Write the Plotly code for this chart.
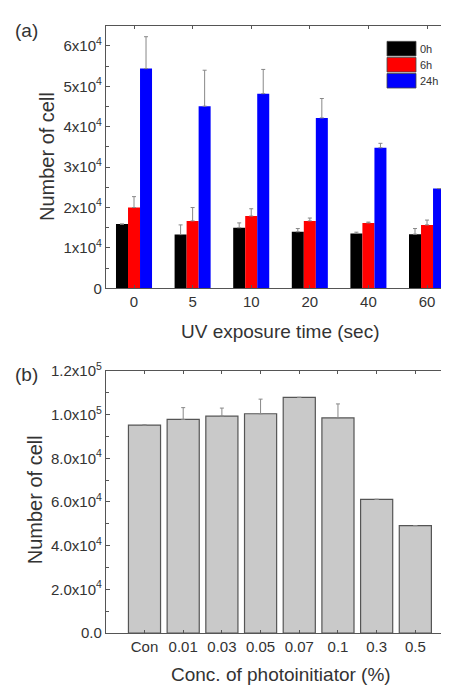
import plotly.graph_objects as go

# ---------------- data ----------------
uv_times = ["0", "5", "10", "20", "40", "60"]
series_names = ["0h", "6h", "24h"]
cells_0h = [1.59e4, 1.33e4, 1.50e4, 1.40e4, 1.36e4, 1.34e4]
cells_6h = [2.00e4, 1.67e4, 1.79e4, 1.67e4, 1.62e4, 1.57e4]
cells_24h = [5.44e4, 4.51e4, 4.82e4, 4.22e4, 3.48e4, 2.47e4]
err_0h = [0.0, 0.24e4, 0.12e4, 0.08e4, 0.03e4, 0.14e4]
err_6h = [0.27e4, 0.33e4, 0.18e4, 0.07e4, 0.02e4, 0.12e4]
err_24h = [0.79e4, 0.89e4, 0.60e4, 0.48e4, 0.11e4, 0.0]
series_colors = ["#000000", "#ff0000", "#0000ff"]

conc_labels = ["Con", "0.01", "0.03", "0.05", "0.07", "0.1", "0.3", "0.5"]
conc_cells = [9.52e4, 9.78e4, 9.93e4, 10.04e4, 10.79e4, 9.85e4, 6.12e4, 4.92e4]
conc_err = [0.10e3, 5.4e3, 3.7e3, 6.7e3, 0.0, 6.4e3, 0.0, 0.0]

ya_tickvals = [0, 1e4, 2e4, 3e4, 4e4, 5e4, 6e4]
ya_ticktext = ["0", "1x10<sup>4</sup>", "2x10<sup>4</sup>", "3x10<sup>4</sup>",
               "4x10<sup>4</sup>", "5x10<sup>4</sup>", "6x10<sup>4</sup>"]
yb_tickvals = [0, 2e4, 4e4, 6e4, 8e4, 10e4, 12e4]
yb_ticktext = ["0.0", "2.0x10<sup>4</sup>", "4.0x10<sup>4</sup>", "6.0x10<sup>4</sup>",
               "8.0x10<sup>4</sup>", "1.0x10<sup>5</sup>", "1.2x10<sup>5</sup>"]

# ---------------- layout constants ----------------
OFF = 8  # default page margin of the html body
W, H = 449 - OFF, 693 - OFF
ML = 106 - OFF
PW = W - ML
FONT = "Liberation Sans, Arial, sans-serif"
TXT = "#333333"
AX = "#555555"


def px(x):  # window pixel -> paper
    return (x - OFF - ML) / PW


def py(y):
    return 1 - (y - OFF) / H


fig = go.Figure()

tops = [cells_0h, cells_6h, cells_24h]
errs = [err_0h, err_6h, err_24h]
for name, vals, e, c in zip(series_names, tops, errs, series_colors):
    fig.add_trace(go.Bar(
        x=uv_times, y=vals, name=name, marker=dict(color=c, line=dict(width=0)),
        error_y=dict(type="data", array=e, arrayminus=[0] * len(e), symmetric=False,
                     color="#888888", thickness=1, width=2),
        xaxis="x", yaxis="y", showlegend=False))

fig.add_trace(go.Bar(
    x=conc_labels, y=conc_cells, width=0.83,
    marker=dict(color="#c9c9c9", line=dict(color="#555555", width=1.2)),
    error_y=dict(type="data", array=conc_err, arrayminus=[0] * len(conc_err), symmetric=False,
                 color="#888888", thickness=1, width=2),
    xaxis="x2", yaxis="y2", showlegend=False))

line_common = dict(showline=True, linecolor=AX, linewidth=1.3, showgrid=False, zeroline=False,
                   tickfont=dict(family=FONT, size=15, color=TXT), tickcolor=AX,
                   ticks="inside")

fig.update_layout(
    width=W, height=H, margin=dict(l=ML, r=0, t=0, b=0),
    paper_bgcolor="white", plot_bgcolor="white",
    barmode="group", bargap=0.385, bargroupgap=0,
    xaxis=dict(domain=[0, 1], anchor="y", range=[-0.478, 5.375], mirror="ticks", ticklen=3,
               **line_common),
    yaxis=dict(domain=[py(285), py(15)], anchor="x", range=[0, 6.5e4],
               tickvals=ya_tickvals, ticktext=ya_ticktext, mirror=False, ticklen=4,
               minor=dict(ticks="inside", ticklen=2.5, tickcolor=AX, dtick=5e3),
               **line_common),
    xaxis2=dict(domain=[0, 1], anchor="y2", range=[-0.995, 7.87], mirror="ticks", ticklen=3,
                **line_common),
    yaxis2=dict(domain=[py(639.5), py(370)], anchor="x2", range=[0, 1.2e5],
                tickvals=yb_tickvals, ticktext=yb_ticktext, mirror=False, ticklen=4,
                minor=dict(ticks="inside", ticklen=2.5, tickcolor=AX, dtick=1e4),
                **line_common),
)

annotations = []
for t, x, y, s in [("(a)", 26, 20, 19), ("(b)", 26, 374, 19),
                   ("UV exposure time (sec)", 280, 329, 19),
                   ("Conc. of photoinitiator (%)", 281, 682, 19)]:
    annotations.append(dict(text=t, x=px(x), y=py(y), xref="paper", yref="paper",
                            showarrow=False, xanchor="center", yanchor="middle",
                            font=dict(family=FONT, size=s, color=TXT)))
for t, x, y in [("Number of cell", 47, 150), ("Number of cell", 35, 503)]:
    annotations.append(dict(text=t, x=px(x), y=py(y), xref="paper", yref="paper", textangle=-90,
                            showarrow=False, xanchor="center", yanchor="middle",
                            font=dict(family=FONT, size=20, color=TXT)))

# legend (custom block swatches)
shapes = []
for i, (name, c) in enumerate(zip(series_names, series_colors)):
    y0 = 31 + i * 16.5
    shapes.append(dict(type="rect", xref="paper", yref="paper", x0=px(387), x1=px(416),
                       y0=py(y0 + 15), y1=py(y0), fillcolor=c, line=dict(width=0.8, color="#444444")))
    annotations.append(dict(text=name, x=px(418), y=py(y0 + 7.5), xref="paper", yref="paper",
                            showarrow=False, xanchor="left", yanchor="middle",
                            font=dict(family=FONT, size=11, color=TXT)))

fig.update_layout(annotations=annotations, shapes=shapes)
fig.write_html("out.html")
